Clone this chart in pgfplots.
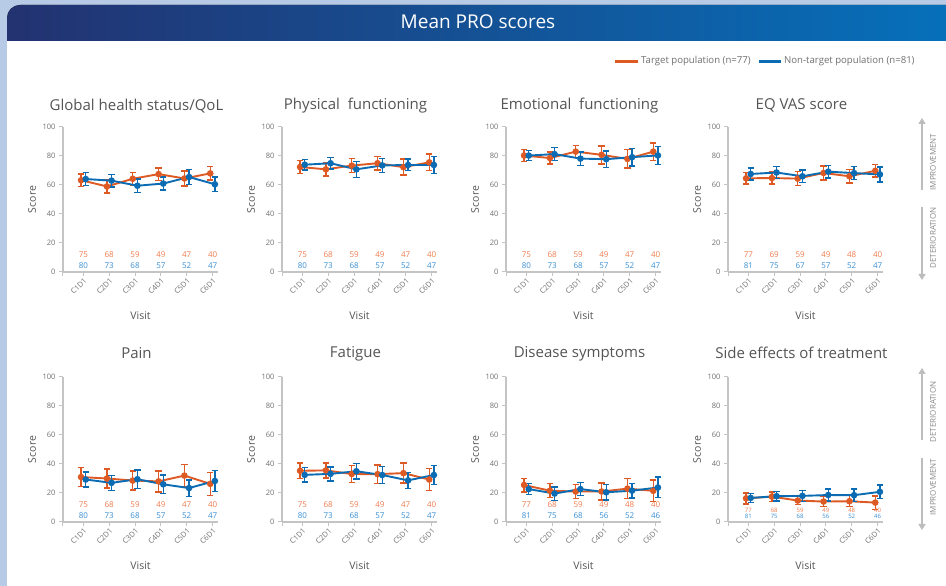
\documentclass[border=0pt]{standalone}
\usepackage{fontspec}
\setmainfont{Open Sans}
\usepackage{pgfplots}
\usepackage{pgfplotstable}
\pgfplotsset{compat=1.18}
\usetikzlibrary{arrows.meta}

\definecolor{orng}{HTML}{DE5A24}
\definecolor{blu}{HTML}{0B6CB4}
\definecolor{norng}{HTML}{F07D4F}
\definecolor{nblu}{HTML}{3A8FD3}
\definecolor{axgray}{HTML}{C4C4C4}
\definecolor{tkgray}{HTML}{707070}
\definecolor{ttlgray}{HTML}{555555}
\definecolor{bgblue}{HTML}{B7CBE6}
\definecolor{hl}{HTML}{233270}
\definecolor{hr}{HTML}{0670BA}
\definecolor{arrgray}{HTML}{BDBDBD}
\definecolor{arrtxt}{HTML}{8A8A8A}

% columns: visit, target mean, target error, non-target mean, non-target error, n target, n non-target
\pgfplotstableread{
x yo eo yb eb no nb
1 63.3 4.3 64.1 4.5 75 80
2 59.0 4.5 63.0 4.4 68 73
3 64.3 4.3 59.5 4.5 59 68
4 67.5 4.3 61.0 4.5 49 57
5 64.5 5.2 65.5 5.0 47 52
6 68.0 4.6 60.5 5.0 40 47
}\tGH
\pgfplotstableread{
x yo eo yb eb no nb
1 72.4 4.5 74.0 3.7 75 80
2 70.8 4.7 75.0 4.0 68 73
3 73.4 4.7 70.8 5.5 59 68
4 75.0 4.6 73.5 4.7 49 57
5 72.3 5.5 73.8 4.0 47 52
6 75.6 5.7 73.8 5.8 40 47
}\tPF
\pgfplotstableread{
x yo eo yb eb no nb
1 80.3 4.0 80.3 3.5 75 80
2 78.6 4.2 81.3 4.4 68 73
3 83.0 4.1 78.2 4.6 59 68
4 80.8 6.2 77.8 5.7 49 57
5 78.0 6.4 79.2 6.0 47 52
6 83.0 6.0 80.4 6.2 40 47
}\tEF
\pgfplotstableread{
x yo eo yb eb no nb
1 64.6 3.9 67.6 4.1 77 81
2 64.8 4.1 68.6 4.0 69 75
3 64.4 4.8 66.0 4.3 59 67
4 68.3 4.8 69.2 4.3 49 57
5 66.0 4.6 68.2 4.6 48 52
6 69.8 4.4 67.3 5.2 40 47
}\tEQ
\pgfplotstableread{
x yo eo yb eb no nb
1 31.0 6.4 29.3 5.1 75 80
2 30.0 6.6 27.0 5.1 68 73
3 28.6 6.6 29.5 6.3 59 68
4 28.0 7.2 26.0 6.5 49 57
5 32.0 7.7 23.4 5.7 47 52
6 26.3 8.0 28.3 7.1 40 47
}\tPA
\pgfplotstableread{
x yo eo yb eb no nb
1 35.3 5.5 32.5 4.9 75 80
2 35.6 5.2 33.2 4.8 68 73
3 33.1 5.8 35.0 5.3 59 68
4 33.0 6.3 32.4 5.8 49 57
5 33.7 6.9 28.7 5.6 47 52
6 29.3 7.6 32.4 6.6 40 47
}\tFA
\pgfplotstableread{
x yo eo yb eb no nb
1 25.5 4.7 22.7 3.9 77 81
2 21.6 4.8 19.6 4.6 68 75
3 21.0 5.0 22.7 4.6 59 68
4 21.0 5.9 20.5 5.2 49 56
5 23.0 6.8 21.6 5.0 48 52
6 21.5 7.4 23.8 7.1 40 46
}\tDS
\pgfplotstableread{
x yo eo yb eb no nb
1 16.3 3.8 16.6 3.2 77 81
2 17.5 3.2 17.8 3.4 68 75
3 14.8 2.6 18.0 3.8 59 68
4 14.1 3.3 18.6 4.2 49 56
5 14.3 3.8 18.5 4.3 48 52
6 13.4 4.6 20.8 4.8 40 46
}\tSE

\pgfplotsset{
  pro/.style={
    scale only axis, width=155pt, height=145pt,
    xmin=0.21, xmax=6.21, ymin=0, ymax=100,
    axis lines*=left,
    axis line style={axgray, line width=1.4pt},
    every tick/.style={axgray, line width=1pt},
    tick align=outside, major tick length=4pt,
    ytick={0,20,...,100},
    xtick={1,...,6}, xticklabels={C1D1,C2D1,C3D1,C4D1,C5D1,C6D1},
    extra x ticks={0.21}, extra x tick labels={},
    x tick label style={rotate=45, anchor=north east, font=\fontsize{7.5}{8}\selectfont, text=tkgray, inner sep=1pt},
    y tick label style={font=\fontsize{7.5}{9}\selectfont, text=tkgray},
    /pgf/number format/assume math mode=true,
    title style={font=\fontsize{15}{18}\selectfont, text=ttlgray, anchor=center, yshift=0pt},
    xlabel=Visit, ylabel=Score,
    label style={font=\fontsize{10.5}{12}\selectfont, text=ttlgray},
    xlabel style={at={(axis description cs:0.5,-0.303)}, anchor=center},
    ylabel style={at={(axis description cs:-0.2,0.5)}, anchor=center},
    clip=false,
  },
  dat/.style={line width=1.9pt, mark=*, mark size=2.3pt, color=#1, mark options={fill=#1},
    error bars/y dir=both, error bars/y explicit,
    error bars/error bar style={line width=1.4pt, #1},
    error bars/error mark options={rotate=90, line width=1.4pt, mark size=3.2pt, #1}},
  nlab/.style={draw=none, mark=none, nodes near coords, point meta=explicit symbolic,
    nodes near coords align={center}},
}

% #1 x, #2 y, #3 title, #4 table, #5 y of target n, #6 y of non-target n, #7 font size, #8 title offset
\newcommand{\panel}[8]{%
\begin{axis}[pro, at={(#1pt,#2pt)}, anchor=south west, title={#3},
  title style={at={(axis description cs:0.474,#8)}}]
\addplot[dat=orng] table[x expr=\thisrow{x}-0.09, y=yo, y error=eo]{#4};
\addplot[dat=blu] table[x expr=\thisrow{x}+0.09, y=yb, y error=eb]{#4};
\addplot[nlab, nodes near coords style={font=\fontsize{#7}{#7}\selectfont, text=norng, inner sep=0pt}]
  table[x=x, y expr=#5, meta=no]{#4};
\addplot[nlab, nodes near coords style={font=\fontsize{#7}{#7}\selectfont, text=nblu, inner sep=0pt}]
  table[x=x, y expr=#6, meta=nb]{#4};
\end{axis}}

\begin{document}
\begin{tikzpicture}[x=1pt,y=1pt]
\useasboundingbox (0,0) rectangle (946,586);
\fill[bgblue] (0,0) rectangle (946,586);
\fill[white] (7,0) -- (7,568) arc(180:90:13) -- (946,581) -- (946,0) -- cycle;
\fill[left color=hl, right color=hr] (7,545) -- (7,568) arc(180:90:13) -- (946,581) -- (946,545) -- cycle;
\node[text=white, font=\fontsize{19}{22}\selectfont] at (478,564) {Mean PRO scores};

% legend
\draw[orng, line width=2.6pt] (615,524.5) -- (638,524.5);
\node[anchor=west, text=tkgray, font=\fontsize{9.6}{11}\selectfont, inner sep=0pt] at (641,524.5) {Target population (n=77)};
\draw[blu, line width=2.6pt] (759,524.5) -- (781,524.5);
\node[anchor=west, text=tkgray, font=\fontsize{9.6}{11}\selectfont, inner sep=0pt] at (784,524.5) {Non-target population (n=81)};

% row 1
\panel{63}{314}{Global health status/QoL}{\tGH}{12}{4.4}{8}{1.105}
\panel{282}{314}{Physical\ \ functioning}{\tPF}{12}{4.4}{8}{1.105}
\panel{506}{314}{Emotional\ \ functioning}{\tEF}{12}{4.4}{8}{1.105}
\panel{728}{314}{EQ VAS score}{\tEQ}{12}{4.4}{8}{1.105}
% row 2
\panel{63}{64}{Pain}{\tPA}{12}{4.4}{8}{1.122}
\panel{282}{64}{Fatigue}{\tFA}{12}{4.4}{8}{1.122}
\panel{506}{64}{Disease symptoms}{\tDS}{12}{4.4}{8}{1.122}
\panel{728}{64}{Side effects of treatment}{\tSE}{7.8}{3.8}{6}{1.122}

% direction arrows
\draw[arrgray, line width=1.3pt, -{Triangle[width=7pt,length=6pt]}] (922,396) -- (922,468);
\draw[arrgray, line width=1.3pt, -{Triangle[width=7pt,length=6pt]}] (922,379) -- (922,306);
\node[rotate=90, text=arrtxt, font=\fontsize{8}{9}\selectfont] at (933,424) {IMPROVEMENT};
\node[rotate=90, text=arrtxt, font=\fontsize{8}{9}\selectfont] at (933,348) {DETERIORATION};
\draw[arrgray, line width=1.3pt, -{Triangle[width=7pt,length=6pt]}] (922,146) -- (922,218);
\draw[arrgray, line width=1.3pt, -{Triangle[width=7pt,length=6pt]}] (922,128) -- (922,56);
\node[rotate=90, text=arrtxt, font=\fontsize{8}{9}\selectfont] at (933,174) {DETERIORATION};
\node[rotate=90, text=arrtxt, font=\fontsize{8}{9}\selectfont] at (933,99) {IMPROVEMENT};
\end{tikzpicture}
\end{document}
